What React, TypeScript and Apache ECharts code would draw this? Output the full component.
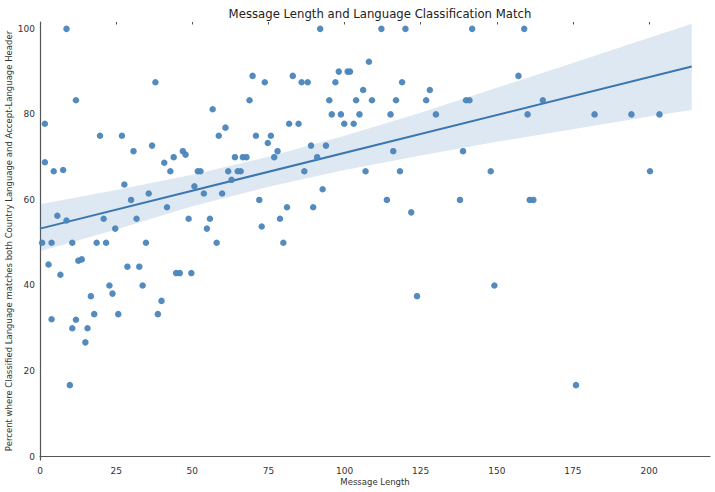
import React, { useEffect, useRef } from 'react';
import * as echarts from 'echarts';

// message length per group (x) and percent of matching classification (y)
const messageLength = [
  8.7, 37.9, 11.8, 1.6, 19.7, 26.9, 56.7, 60.9, 58.7, 69.8, 73.8, 68.8, 70.9, 74.8, 75.8,
  30.7, 36.8, 1.6, 4.5, 7.6, 27.7, 29.9, 35.7, 40.8, 42.8, 43.9, 46.9, 47.8, 41.7, 51.8,
  52.7, 50.7, 53.8, 48.8, 55.8, 54.8, 58, 61.8, 62.9, 59.8, 64, 64.9, 65.9, 66.6, 67.8,
  72, 72.8, 5.7, 8.7, 20.9, 31.7, 24.7, 0.7, 3.8, 10.6, 18.6, 21.7, 34.8, 2.8, 12.6,
  13.7, 6.7, 28.7, 32.6, 44.7, 45.9, 49.7, 22.8, 33.7, 23.8, 16.7, 39.9, 17.8, 25.7, 38.7,
  3.8, 11.8, 10.6, 15.6, 14.9, 9.8, 92, 112.1, 120, 141.9, 108, 83, 98.1, 101, 101.8,
  85.9, 87.9, 97, 118.9, 106.1, 128, 95, 103.8, 109, 116.9, 126.8, 139.9, 141, 95.8, 98.8,
  104.9, 115.1, 130, 81.8, 84.9, 99.9, 103, 78, 76.9, 89, 93.9, 91, 116, 138.9, 86.8,
  106.9, 118.2, 148, 92.8, 113.9, 137.9, 81.1, 89.7, 121.9, 78.8, 79.9, 123.8, 149.2, 159, 157.1,
  165.1, 160.1, 182.1, 194.2, 203.4, 200.3, 160.8, 162, 176
];
const percentMatch = [
  100, 87.5, 83.3, 77.8, 75, 75, 81.2, 76.9, 75, 89, 87.5, 83.3, 75, 73.3, 75,
  71.4, 72.7, 68.8, 66.7, 67, 63.6, 60, 61.5, 68.7, 66.7, 70, 71.4, 70.6, 58.3, 66.7,
  66.7, 63.2, 61.5, 55.6, 55.6, 53.3, 50, 66.7, 64.7, 61.5, 70, 66.7, 66.7, 70, 70,
  60, 53.8, 56.3, 55.2, 55.6, 55.6, 53.3, 50, 50, 50, 50, 50, 50, 44.9, 45.8,
  46.1, 42.5, 44.4, 44.4, 42.9, 42.9, 42.9, 40, 40, 38.1, 37.5, 36.4, 33.3, 33.3, 33.3,
  32.1, 32, 30, 30, 26.7, 16.7, 100, 100, 100, 100, 92.3, 89, 90, 90, 90,
  87.5, 87.5, 87.5, 87.5, 85.7, 85.7, 83.3, 83.3, 83.3, 83.3, 83.3, 83.3, 83.3, 80, 80,
  80, 80, 80, 77.8, 77.8, 77.8, 77.8, 71.4, 70, 72.7, 72.7, 70, 71.4, 71.4, 66.7,
  66.7, 66.7, 66.7, 62.5, 60, 60, 58.3, 58.3, 57.1, 55.6, 50, 37.5, 40, 100, 89,
  83.3, 80, 80, 80, 80, 66.7, 60, 60, 16.7
];

// regression fit and its confidence band
const fitX = [0, 214];
const fitY = [53.3, 91.2];
const bandX = [0, 25, 50, 75, 100, 125, 150, 175, 200, 214];
const bandLower = [48.0, 53.1, 58.5, 63.1, 67.0, 70.4, 73.6, 76.5, 79.5, 81.0];
const bandUpper = [59.0, 62.3, 65.9, 70.1, 75.0, 80.4, 86.2, 92.0, 97.9, 101.2];

const xTicks = [0, 25, 50, 75, 100, 125, 150, 175, 200];
const yTicks = [0, 20, 40, 60, 80, 100];

const POINT = '#4b85ba';
const LINE = '#3a76af';
const FONT = '"DejaVu Sans", sans-serif';

const App: React.FC = () => {
  const chartRef = useRef<HTMLDivElement>(null);

  useEffect(() => {
    if (!chartRef.current) return;
    const chart = echarts.init(chartRef.current, null, { renderer: 'svg' });

    const axisText = { color: '#333', fontSize: 9, fontFamily: FONT };

    chart.setOption({
      animation: false,
      title: {
        text: 'Message Length and Language Classification Match',
        left: 375,
        top: 3,
        textAlign: 'center',
        textStyle: { color: '#222', fontSize: 11.7, fontWeight: 'normal', fontFamily: FONT }
      },
      graphic: [
        {
          type: 'text',
          x: 375,
          y: 482,
          style: {
            text: 'Message Length',
            align: 'center',
            verticalAlign: 'middle',
            fill: '#333',
            font: `8.5px ${FONT}`
          }
        },
        {
          type: 'text',
          x: 9,
          y: 241,
          rotation: Math.PI / 2,
          style: {
            text: 'Percent where Classified Language matches both Country Language and Accept-Language Header',
            align: 'center',
            verticalAlign: 'middle',
            fill: '#333',
            font: `8.5px ${FONT}`
          }
        }
      ],
      grid: { left: 40, right: 5, top: 22, bottom: 32, outerBoundsMode: 'none', containLabel: false },
      xAxis: [
        {
          type: 'value',
          min: 0,
          max: 220,
          axisLine: { show: true, lineStyle: { color: '#555', width: 1.2 } },
          axisTick: { show: false },
          splitLine: { show: false },
          axisLabel: { ...axisText, margin: 6, customValues: xTicks }
        },
        {
          type: 'value',
          position: 'top',
          min: 0,
          max: 220,
          axisLine: { show: false },
          axisTick: { show: true, inside: true, length: 2.5, customValues: xTicks.slice(1), lineStyle: { color: '#555', width: 1 } },
          axisLabel: { show: false },
          splitLine: { show: false }
        }
      ],
      yAxis: {
        type: 'value',
        min: -0.8,
        max: 101.6,
        axisLine: { show: true, lineStyle: { color: '#555', width: 1.2 } },
        axisTick: { show: false },
        splitLine: { show: false },
        axisLabel: { ...axisText, margin: 5, customValues: yTicks }
      },
      series: [
        {
          // confidence band as one polygon: upper edge forward, lower edge back
          type: 'custom',
          data: [0],
          silent: true,
          z: 1,
          renderItem: (_params: any, api: any) => {
            const pts: number[][] = [];
            bandX.forEach((x, i) => pts.push(api.coord([x, bandUpper[i]])));
            for (let i = bandX.length - 1; i >= 0; i--) pts.push(api.coord([bandX[i], bandLower[i]]));
            return {
              type: 'polygon',
              shape: { points: pts },
              style: { fill: 'rgba(58,118,175,0.17)' }
            };
          }
        },
        {
          type: 'line',
          data: fitX.map((x, i) => [x, fitY[i]]),
          symbol: 'none',
          lineStyle: { color: LINE, width: 2 },
          silent: true,
          z: 2
        },
        {
          type: 'scatter',
          data: messageLength.map((x, i) => [x, percentMatch[i]]),
          symbolSize: 6.5,
          itemStyle: { color: POINT, opacity: 0.95 },
          z: 3
        }
      ]
    });

    return () => chart.dispose();
  }, []);

  return <div ref={chartRef} style={{ position: 'absolute', left: 0, top: 0, width: 715, height: 492 }} />;
};

export default App;
